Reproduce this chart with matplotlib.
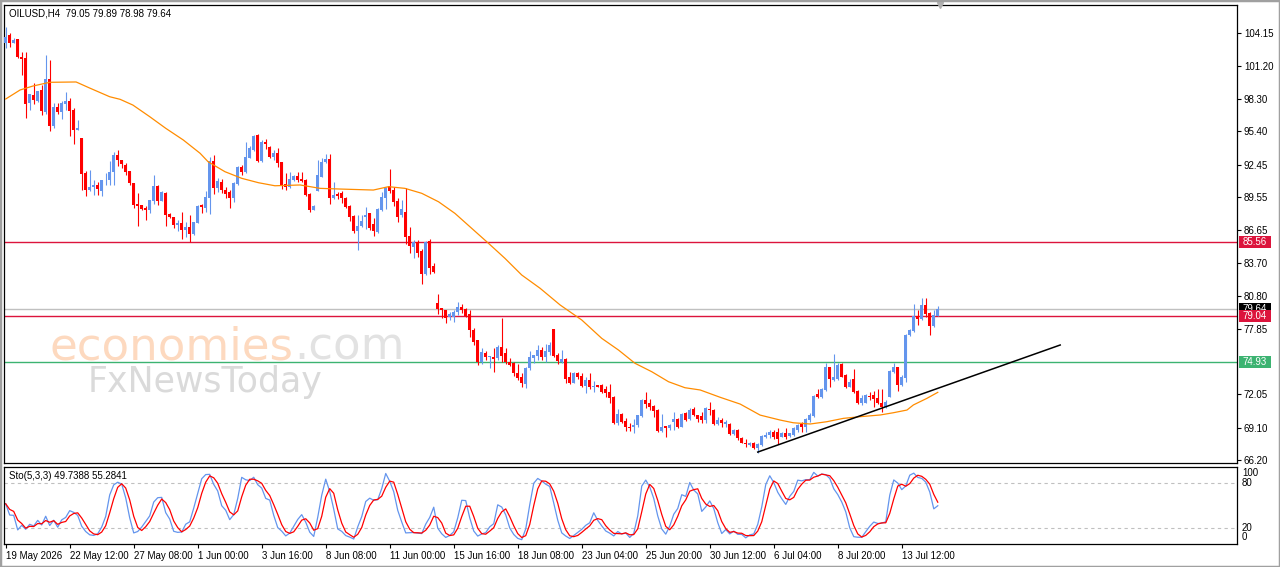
import matplotlib
matplotlib.use('Agg')
import matplotlib.pyplot as plt
import matplotlib.transforms as mtransforms
from matplotlib.patches import Rectangle
import numpy as np
import pandas as pd

# OILUSD H4 candles
opens = [103.21, 103.97, 103.24, 103.60, 101.99, 101.90, 97.90, 98.59, 98.12, 99.06,
         97.11, 100.04, 95.90, 97.56, 97.11, 97.80, 98.06, 97.32, 95.49, 94.80,
         91.70, 90.20, 90.43, 90.66, 90.13, 91.05, 91.05, 91.76, 93.33, 92.88,
         92.44, 91.85, 90.81, 88.95, 88.89, 88.60, 88.45, 89.18, 90.52, 89.24,
         89.93, 88.06, 87.83, 87.06, 87.29, 86.64, 86.91, 86.32, 87.29, 88.86,
         88.56, 89.51, 92.80, 90.40, 90.93, 90.19, 90.04, 89.51, 90.69, 92.20,
         91.76, 93.06, 93.74, 95.07, 92.80, 94.48, 94.01, 93.09, 93.45, 92.71,
         90.72, 90.49, 91.11, 91.43, 91.14, 91.08, 89.84, 88.42, 90.13, 91.38,
         92.65, 92.91, 89.51, 89.84, 89.90, 89.51, 88.77, 87.92, 86.55, 87.00,
         87.80, 88.12, 87.20, 86.50, 88.45, 89.51, 90.58, 90.19, 89.25, 88.00,
         88.20, 86.11, 85.10, 85.60, 84.80, 82.74, 85.65, 83.45, 80.20, 79.75,
         79.54, 78.90, 78.95, 79.40, 79.84, 79.63, 79.19, 77.77, 76.88, 74.96,
         75.70, 75.40, 75.40, 75.26, 76.29, 75.70, 74.96, 74.81, 73.98, 73.63,
         72.98, 74.37, 75.26, 75.46, 75.99, 75.40, 75.85, 77.83, 75.55, 74.96,
         75.17, 73.63, 73.04, 73.92, 73.69, 72.80, 73.33, 72.74, 72.89, 72.89,
         72.50, 72.30, 71.86, 69.55, 70.32, 69.73, 69.19, 69.13, 69.34, 70.17,
         71.56, 71.32, 71.03, 70.67, 68.84, 69.25, 69.04, 69.64, 69.84, 69.19,
         70.38, 69.84, 70.73, 70.23, 70.14, 69.78, 70.73, 70.67, 69.43, 69.78,
         69.43, 69.43, 68.54, 68.90, 68.16, 67.77, 67.57, 67.71, 67.27, 67.57,
         68.30, 68.45, 68.75, 68.75, 68.30, 68.66, 68.36, 68.45, 68.90, 69.43,
         69.19, 69.78, 70.14, 72.06, 71.85, 72.45, 74.46, 73.33, 73.39, 74.75,
         73.78, 72.74, 73.39, 72.36, 71.27, 71.32, 71.91, 72.00, 71.71, 71.32,
         70.91, 71.85, 74.07, 74.46, 72.89, 73.48, 77.33, 77.71, 79.01, 78.72,
         79.99, 79.25, 78.13, 79.05]
highs = [104.68, 104.12, 103.70, 103.60, 102.40, 102.40, 98.75, 99.66, 99.00, 99.48,
         102.20, 101.73, 97.94, 97.94, 98.12, 98.90, 98.36, 97.47, 96.40, 94.80,
         91.85, 91.99, 91.10, 90.90, 91.10, 91.70, 92.74, 93.57, 93.71, 92.88,
         92.58, 91.85, 90.81, 89.93, 88.89, 88.74, 89.33, 91.55, 90.61, 90.07,
         89.98, 88.15, 87.83, 87.56, 88.21, 87.32, 87.97, 87.38, 88.86, 88.98,
         90.13, 93.15, 93.30, 91.23, 91.17, 90.43, 90.19, 90.93, 92.32, 92.41,
         94.42, 94.13, 95.07, 95.13, 94.63, 94.69, 94.13, 93.74, 93.89, 92.71,
         91.67, 91.82, 91.52, 91.82, 91.82, 91.20, 89.90, 88.86, 92.85, 93.06,
         93.35, 93.35, 90.87, 90.04, 90.13, 89.60, 88.86, 87.97, 87.97, 87.97,
         88.71, 88.18, 87.68, 88.57, 90.00, 90.43, 92.06, 90.43, 89.45, 89.30,
         90.40, 86.94, 85.76, 85.76, 84.93, 85.70, 85.85, 83.69, 80.97, 79.75,
         79.54, 79.40, 79.54, 80.28, 80.08, 79.69, 79.54, 77.92, 76.88, 76.14,
         75.90, 75.50, 76.14, 76.44, 78.86, 76.14, 75.26, 74.96, 74.75, 73.92,
         74.52, 75.94, 75.55, 76.44, 76.29, 76.53, 76.73, 77.89, 75.70, 75.99,
         75.26, 74.07, 74.07, 74.07, 73.98, 73.57, 73.92, 73.24, 72.89, 72.98,
         72.80, 72.98, 71.91, 70.73, 70.38, 69.93, 69.49, 69.84, 70.23, 71.62,
         72.30, 71.62, 71.12, 70.73, 70.32, 69.25, 69.43, 70.52, 69.93, 70.38,
         70.52, 70.82, 70.91, 70.23, 70.52, 70.97, 71.41, 70.73, 70.02, 69.93,
         69.78, 69.49, 68.96, 68.96, 68.30, 68.07, 67.86, 67.86, 67.71, 68.45,
         68.75, 68.90, 68.90, 69.04, 68.75, 69.04, 68.66, 69.19, 69.43, 69.64,
         69.93, 70.43, 72.00, 72.50, 72.59, 74.81, 74.52, 75.64, 74.81, 74.81,
         73.87, 73.39, 74.28, 72.45, 72.00, 72.09, 72.30, 72.39, 72.50, 72.50,
         71.56, 74.22, 74.87, 74.52, 73.78, 77.42, 77.83, 80.08, 79.54, 80.58,
         80.58, 79.40, 79.54, 79.89]
lows = [102.82, 102.85, 103.20, 101.90, 100.43, 96.58, 97.32, 97.82, 98.00, 96.88,
        96.94, 95.40, 95.70, 96.97, 96.52, 97.30, 94.98, 94.27, 95.49, 90.20,
        89.63, 90.07, 89.72, 89.72, 89.63, 90.67, 90.67, 90.67, 92.30, 92.15,
        91.55, 90.67, 88.60, 87.03, 88.45, 87.56, 88.15, 88.95, 88.89, 89.18,
        86.97, 87.71, 86.82, 86.58, 85.85, 86.05, 85.55, 86.20, 87.23, 88.12,
        88.21, 88.03, 89.81, 90.04, 89.90, 89.45, 88.62, 89.10, 90.64, 91.52,
        91.67, 93.00, 93.65, 92.71, 92.71, 93.83, 93.00, 92.85, 92.20, 90.28,
        90.19, 90.34, 91.00, 90.87, 90.90, 89.66, 88.21, 88.42, 90.10, 91.32,
        92.56, 88.95, 89.40, 89.40, 89.01, 88.62, 87.44, 86.35, 84.90, 86.94,
        86.70, 86.64, 86.11, 86.41, 88.36, 88.48, 89.90, 88.80, 87.38, 87.80,
        85.40, 84.57, 84.20, 84.22, 81.85, 82.65, 82.74, 82.86, 79.19, 78.80,
        78.36, 78.65, 78.50, 79.10, 79.25, 78.95, 77.18, 76.44, 74.66, 74.75,
        75.10, 74.37, 74.02, 75.10, 74.96, 74.75, 74.60, 73.69, 73.33, 72.74,
        72.59, 74.22, 74.81, 75.10, 75.11, 74.96, 75.55, 75.40, 74.75, 74.81,
        73.10, 72.98, 73.04, 73.39, 72.74, 72.21, 72.50, 72.30, 72.74, 72.21,
        71.86, 71.32, 69.43, 69.34, 69.49, 68.84, 68.84, 68.66, 69.19, 70.08,
        70.82, 70.67, 70.08, 68.75, 68.75, 68.30, 68.90, 68.90, 69.04, 69.13,
        69.73, 69.78, 70.14, 69.64, 69.55, 69.55, 70.23, 69.34, 69.34, 69.19,
        69.20, 68.45, 68.45, 68.01, 67.71, 67.42, 67.48, 67.18, 66.90, 67.48,
        68.16, 68.16, 68.07, 67.65, 68.24, 68.07, 68.30, 68.36, 68.75, 68.75,
        68.75, 69.64, 70.08, 71.71, 71.71, 72.39, 72.74, 73.27, 73.33, 73.57,
        72.59, 72.68, 72.21, 71.20, 71.12, 71.27, 71.56, 70.97, 71.20, 70.52,
        70.82, 71.80, 73.98, 72.39, 72.80, 73.18, 77.24, 77.62, 78.21, 78.66,
        78.95, 77.33, 78.07, 78.98]
closes = [103.80, 103.24, 103.50, 101.96, 101.82, 97.85, 98.71, 98.18, 98.95, 97.17,
          100.04, 95.90, 97.56, 97.11, 97.91, 98.06, 97.23, 95.49, 95.70, 91.64,
          90.22, 90.46, 90.66, 90.28, 91.05, 91.10, 91.79, 93.33, 92.83, 92.50,
          91.79, 90.81, 88.89, 88.80, 88.54, 88.45, 89.27, 90.58, 89.24, 89.98,
          88.00, 87.77, 87.06, 87.27, 86.64, 86.91, 86.32, 87.32, 88.77, 88.65,
          89.60, 92.80, 90.40, 91.02, 90.19, 89.84, 89.45, 90.78, 92.20, 91.76,
          93.15, 93.89, 95.01, 92.80, 94.48, 94.30, 93.09, 93.45, 92.62, 90.63,
          90.49, 91.17, 91.47, 91.08, 91.02, 89.72, 88.42, 88.80, 91.52, 92.71,
          92.91, 89.51, 89.75, 89.69, 89.51, 88.71, 87.83, 86.55, 87.03, 87.44,
          87.97, 86.79, 86.58, 88.48, 89.57, 90.34, 90.13, 89.10, 87.83, 88.50,
          86.05, 85.22, 85.60, 84.63, 82.74, 85.60, 83.30, 82.95, 79.60, 79.54,
          78.87, 79.19, 79.40, 79.84, 79.54, 79.04, 77.77, 76.74, 74.96, 75.85,
          75.35, 75.45, 75.20, 76.29, 75.46, 74.90, 74.66, 73.92, 73.48, 73.04,
          74.37, 75.35, 75.55, 75.99, 75.40, 75.90, 76.44, 75.49, 75.05, 75.20,
          73.42, 73.04, 73.92, 73.57, 72.80, 73.33, 72.74, 72.83, 72.74, 72.30,
          72.15, 71.71, 69.49, 70.32, 69.64, 69.13, 69.10, 69.34, 70.23, 71.56,
          71.20, 70.91, 70.61, 68.84, 69.19, 69.04, 69.34, 69.84, 69.19, 70.32,
          69.78, 70.67, 70.23, 69.84, 69.78, 70.82, 70.67, 69.43, 69.78, 69.49,
          69.64, 68.54, 68.90, 68.16, 67.77, 67.65, 67.77, 67.27, 67.65, 68.36,
          68.45, 68.75, 68.24, 68.07, 68.66, 68.30, 68.60, 69.04, 69.34, 69.13,
          69.84, 70.23, 71.91, 71.85, 72.50, 74.46, 73.39, 73.63, 74.66, 73.63,
          72.68, 73.18, 72.30, 71.27, 71.71, 72.00, 71.80, 71.62, 71.27, 70.91,
          71.41, 74.16, 74.46, 72.89, 73.63, 77.33, 77.77, 79.01, 78.72, 79.99,
          79.19, 78.13, 79.10, 79.64]

# moving average (orange), read at bar positions
ma_x = [0, 3.6, 6.8, 11, 17.6, 21, 26, 28.6, 31.8, 36, 40, 44.4, 48.6, 50.6, 54.8,
        59, 63.2, 67.3, 73.6, 78.6, 83.6, 91.9, 95.7, 99.8, 104, 108.2, 112.3, 116.5,
        120.7, 124.8, 129, 133.6, 138.6, 144, 149, 153.2, 157.3, 161.5, 165.7, 169.8,
        173.6, 178.6, 183.6, 188.6, 193.6, 196.9, 201.1, 205.2, 209.4, 213.6, 218.6,
        221.9, 225.3, 226.9, 230.3, 233]
ma_y = [98.27, 99.07, 99.42, 99.75, 99.78, 99.24, 98.47, 98.24, 97.73, 96.70, 95.67,
        94.63, 93.45, 92.70, 91.82, 91.23, 90.84, 90.57, 90.64, 90.34, 90.28, 90.19,
        90.49, 90.34, 89.90, 89.15, 88.12, 86.79, 85.46, 84.13, 82.65, 81.47, 79.99,
        78.66, 77.03, 75.99, 74.82, 74.07, 73.18, 72.65, 72.45, 71.80, 71.20, 70.22,
        69.78, 69.54, 69.43, 69.63, 69.93, 70.08, 70.23, 70.43, 70.67, 71.12, 71.71,
        72.24]

# trend line (bar, price)
trend_x = [188.0, 263.6]
trend_y = [66.94, 76.44]

level_res = 85.56
level_mid = 79.04
level_sup = 74.93
bid = 79.64

price_ticks = [104.15, 101.20, 98.30, 95.40, 92.45, 89.55, 86.65, 83.70, 80.80,
               77.85, 72.05, 69.10, 66.20]
date_pos = [0, 16, 32, 48, 64, 80, 96, 112, 128, 144, 160, 176, 192, 208, 224]
date_labels = ['19 May 2026', '22 May 12:00', '27 May 08:00', '1 Jun 00:00',
               '3 Jun 16:00', '8 Jun 08:00', '11 Jun 00:00', '15 Jun 16:00',
               '18 Jun 08:00', '23 Jun 04:00', '25 Jun 20:00', '30 Jun 12:00',
               '6 Jul 04:00', '8 Jul 20:00', '13 Jul 12:00']

plt.rcParams['font.family'] = ['Liberation Sans', 'DejaVu Sans']

W, H = 1280, 567
fig = plt.figure(figsize=(W / 100, H / 100), dpi=100)


def fx(px):
    return px / W


def fy(py):
    return 1 - py / H


ax = fig.add_axes([fx(4), fy(463), fx(1233), 458 / H])
ax2 = fig.add_axes([fx(4), fy(544), fx(1233), 77 / H])

o = np.array(opens)
h = np.array(highs)
l = np.array(lows)
c = np.array(closes)
x = np.arange(len(c))
cols = np.where(c >= o, '#6495ED', '#FF0000')

# candles
ax.vlines(x, l, h, colors=cols, linewidth=0.8, zorder=3)
ax.bar(x, np.maximum(np.abs(c - o), 0.07), bottom=np.minimum(o, c), width=0.75,
       color=cols, linewidth=0, zorder=3)

ax.plot(ma_x, ma_y, color='#FF8C00', linewidth=0.9, zorder=4)

ax.axhline(bid, color='#C0C0C0', linewidth=1.0, zorder=2)
ax.axhline(level_res, color='#DC143C', linewidth=1.0, zorder=2)
ax.axhline(level_mid, color='#DC143C', linewidth=1.0, zorder=2)
ax.axhline(level_sup, color='#3CB371', linewidth=1.0, zorder=2)
ax.plot(trend_x, trend_y, color='black', linewidth=1.1, zorder=5)

ax.set_xlim(-0.425, 307.8)
ax.set_ylim(65.97, 106.61)
ax.set_xticks([])
ax.yaxis.tick_right()
ax.set_yticks(price_ticks)
ax.set_yticklabels(['%.2f' % v for v in price_ticks])
ax.tick_params(axis='y', length=3, width=0.8, pad=2, labelsize=7, colors='black')
for s in ax.spines.values():
    s.set_linewidth(0.9)

# chart shift marker at the top
ax.plot([233.6], [1.0], marker='v', markersize=5, color='#B0B0B0', clip_on=False,
        transform=mtransforms.blended_transform_factory(ax.transData, ax.transAxes),
        zorder=6)

# price boxes on the right scale
tr = mtransforms.blended_transform_factory(ax.transAxes, ax.transData)
bw = 32 / 1233
bh = 12 / 11.27
for val, fc, z in [(bid, 'black', 6), (level_res, '#DC143C', 7),
                   (level_mid, '#DC143C', 7), (level_sup, '#3CB371', 7)]:
    ax.add_patch(Rectangle((1.0016, val - bh / 2), bw, bh, transform=tr,
                           facecolor=fc, edgecolor='none', clip_on=False, zorder=z))
    ax.text(1.0016 + bw / 2, val, '%.2f' % val, transform=tr, color='white',
            fontsize=7, ha='center', va='center', clip_on=False, zorder=z)

# watermark
wm = dict(transform=fig.transFigure, family='DejaVu Sans', zorder=0, va='baseline')
ax.text(fx(50), fy(360), 'economies', fontsize=32.4, color='#FDD9BF', **wm)
ax.text(fx(294), fy(360), '.com', fontsize=32.4, color='#E2E2E2', **wm)
ax.text(fx(88), fy(392), 'FxNewsToday', fontsize=25, color='#DADADA', **wm)

fig.text(fx(9), fy(13), 'OILUSD,H4  79.05 79.89 78.98 79.64', fontsize=7,
         va='center', ha='left')

# stochastic 5,3,3
df = pd.DataFrame({'h': highs, 'l': lows, 'c': closes})
ll = df['l'].rolling(5, min_periods=1).min()
hh = df['h'].rolling(5, min_periods=1).max()
k = 100 * (df['c'] - ll).rolling(3, min_periods=1).sum() / \
    (hh - ll).rolling(3, min_periods=1).sum()
d = k.rolling(3, min_periods=1).mean()

ax2.axhline(80, color='#C0C0C0', linewidth=0.8, linestyle=(0, (3, 3)))
ax2.axhline(20, color='#C0C0C0', linewidth=0.8, linestyle=(0, (3, 3)))
ax2.plot(x, k, color='#6495ED', linewidth=0.9)
ax2.plot(x, d, color='#FF0000', linewidth=0.9)
ax2.set_xlim(-0.425, 307.8)
ax2.set_ylim(-0.93, 101.7)
ax2.set_yticks([])
ax2.set_xticks(date_pos)
ax2.set_xticklabels(date_labels)
for lab in ax2.get_xticklabels():
    lab.set_ha('left')
ax2.tick_params(axis='x', length=3, width=0.8, pad=2, labelsize=7)
for s in ax2.spines.values():
    s.set_linewidth(0.9)

fig.text(fx(9), fy(476), 'Sto(5,3,3) 49.7388 55.2841', fontsize=7, va='center')
for txt, py in [('100', 473), ('80', 483), ('20', 528), ('0', 537.5)]:
    fig.text(fx(1242), fy(py), txt, fontsize=7, va='center', ha='left')

# window frame
fig.patches.append(Rectangle((0, 0), 1, 1, transform=fig.transFigure, fill=False,
                             edgecolor='#A0A0A0', linewidth=2.5))

fig.savefig('out.png', dpi=100)
